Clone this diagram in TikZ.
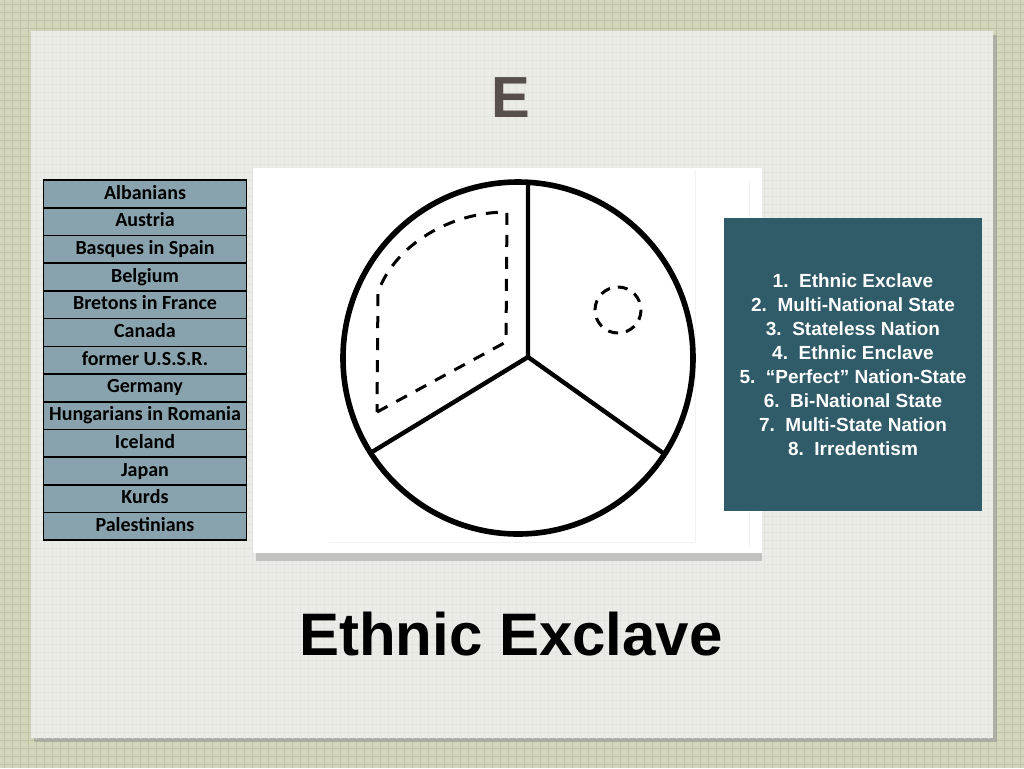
\documentclass[tikz,border=0pt]{standalone}
\usepackage{fontspec}
\setmainfont{Liberation Sans}
\newfontfamily\listfont{Carlito}
\usepackage{xcolor}
\usepackage{tikz}
\usetikzlibrary{positioning}
\definecolor{paper}{HTML}{D3D6BB}
\definecolor{paperline}{HTML}{BFC3A4}
\definecolor{card}{HTML}{EBEBE7}
\definecolor{cardline}{HTML}{E3E4DE}
\definecolor{rowblue}{HTML}{88A3AD}
\definecolor{keyteal}{HTML}{305B69}
\definecolor{titlegray}{HTML}{574F4B}
\tikzstyle{country} = [rectangle, draw=black, line width=0.8pt, fill=rowblue, minimum width=101.5pt, minimum height=13.85pt, text height=7pt, text depth=2pt, inner sep=0pt, outer sep=0pt, font=\listfont\bfseries\fontsize{10}{12}\selectfont]
\tikzstyle{keybox} = [rectangle, fill=keyteal, text=white, minimum width=129pt, minimum height=146.5pt, align=center, font=\bfseries\fontsize{9.5}{12}\selectfont]
\tikzstyle{rim} = [line width=2.8pt]
\tikzstyle{spoke} = [line width=2.2pt, line cap=round]
\tikzstyle{border} = [line width=1.5pt, dash pattern=on 6pt off 5pt]

\begin{document}
\begin{tikzpicture}[x=0.5pt, y=-0.5pt]
    \useasboundingbox (0,0) rectangle (1024,768);
    % graph paper and slide card
    \fill[paper] (0,0) rectangle (1024,768);
    \foreach \g in {4,12,...,1020} \draw[paperline, line width=0.4pt] (\g,0) -- (\g,768);
    \foreach \g in {4,12,...,764} \draw[paperline, line width=0.4pt] (0,\g) -- (1024,\g);
    \fill[black!40, opacity=0.6] (34,35) rectangle (997,742);
    \fill[card] (31,31) rectangle (993,738);
    \begin{scope}
        \clip (31,31) rectangle (993,738);
        \foreach \g in {4,12,...,1020} \draw[cardline, line width=0.3pt] (\g,0) -- (\g,768);
        \foreach \g in {4,12,...,764} \draw[cardline, line width=0.3pt] (0,\g) -- (1024,\g);
    \end{scope}
    \node[titlegray, font=\bfseries\fontsize{29}{30}\selectfont, anchor=base] (title) at (511,117) {E};
    % list of examples
    \node[country] (a1) at (145,194) {Albanians};
    \node[country, below=0pt of a1] (a2) {Austria};
    \node[country, below=0pt of a2] (a3) {Basques in Spain};
    \node[country, below=0pt of a3] (a4) {Belgium};
    \node[country, below=0pt of a4] (a5) {Bretons in France};
    \node[country, below=0pt of a5] (a6) {Canada};
    \node[country, below=0pt of a6] (a7) {former U.S.S.R.};
    \node[country, below=0pt of a7] (a8) {Germany};
    \node[country, below=0pt of a8] (a9) {Hungarians in Romania};
    \node[country, below=0pt of a9] (a10) {Iceland};
    \node[country, below=0pt of a10] (a11) {Japan};
    \node[country, below=0pt of a11] (a12) {Kurds};
    \node[country, below=0pt of a12] (a13) {Palestinians};
    % picture frame
    \fill[black!30, opacity=0.7] (256,174) rectangle (762,561);
    \fill[white] (253,168) rectangle (762,553);
    \draw[black!5, line width=0.4pt] (695,170) -- (695,542) -- (330,542);
    \draw[black!5, line width=0.4pt] (749,180) -- (749,548);
    % divided state
    \coordinate (hub) at (528,357);
    \coordinate (tip1) at (528,183);
    \coordinate (tip2) at (372,452);
    \coordinate (tip3) at (663,453);
    \draw[spoke] (tip1) -- (hub) -- (tip2);
    \draw[spoke] (hub) -- (tip3);
    \draw[rim] (518,358) circle [x radius=175, y radius=176];
    \draw[border] (377,412) -- (506,342) -- (507,212) .. controls (450,212) and (395,245) .. (378,292) -- cycle;
    \draw[border, dash pattern=on 5pt off 4pt] (618,310) circle [radius=23];
    % answer key
    \node[keybox] (key) at (853,364.5) {1.\ \ Ethnic Exclave\\2.\ \ Multi-National State\\3.\ \ Stateless Nation\\4.\ \ Ethnic Enclave\\5.\ \ “Perfect” Nation-State\\6.\ \ Bi-National State\\7.\ \ Multi-State Nation\\8.\ \ Irredentism};
    \node[font=\bfseries\fontsize{30}{32}\selectfont, anchor=base] (caption) at (511,655) {Ethnic Exclave};
\end{tikzpicture}
\end{document}
